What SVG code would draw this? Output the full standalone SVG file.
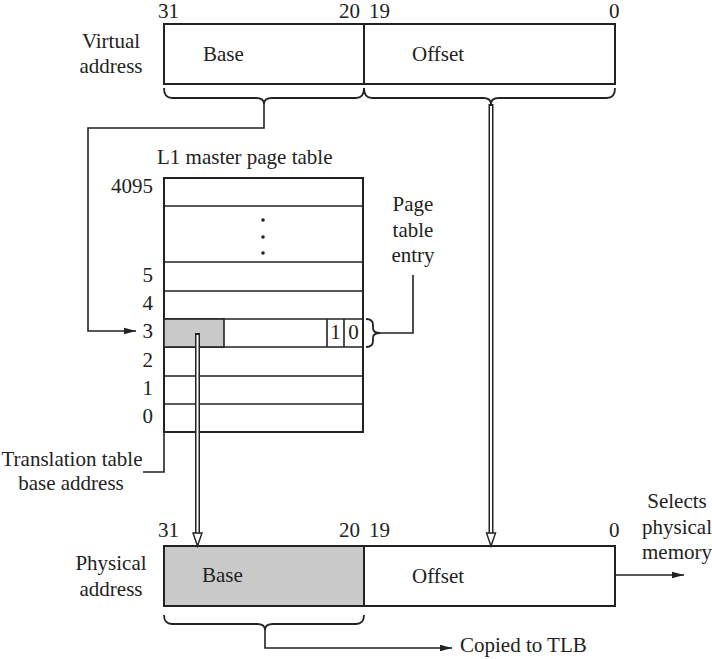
<svg xmlns="http://www.w3.org/2000/svg" width="712" height="659" viewBox="0 0 712 659">
<style>
text{font-family:"Liberation Serif","Times New Roman",serif;font-size:21px;fill:#222}
.box{fill:#fff;stroke:#222;stroke-width:2}
.shade{fill:#c9c9c9;stroke:#222;stroke-width:2}
.ln{fill:none;stroke:#222;stroke-width:1.6}
.br{fill:none;stroke:#222;stroke-width:1.8}
.dblo{fill:none;stroke:#222;stroke-width:5}
.dbli{fill:none;stroke:#fff;stroke-width:2}
.hol{fill:#fff;stroke:#222;stroke-width:1.4}
.m{text-anchor:middle}
.e{text-anchor:end}
</style>
<defs>
<marker id="ah" viewBox="0 0 12 8" refX="12" refY="4" markerWidth="12" markerHeight="8" markerUnits="userSpaceOnUse" orient="auto">
<path d="M0,0.8 L12,4 L0,7.2 Z" fill="#222"/>
</marker>
</defs>
<rect width="712" height="659" fill="#fff"/>

<g id="virtual-address">
<rect class="box" x="164" y="24" width="451" height="60"/>
<line class="ln" x1="364" y1="24" x2="364" y2="84" style="stroke-width:2"/>
<text x="158" y="18">31</text>
<text class="e" x="360" y="18">20</text>
<text x="369" y="18">19</text>
<text x="609" y="18">0</text>
<text class="m" x="111" y="48">Virtual</text>
<text class="m" x="111" y="73">address</text>
<text x="203" y="61">Base</text>
<text x="412" y="61">Offset</text>
<path class="br" d="M164,88 Q164,98 172,98 L256,98 Q264,98 264,104 Q264,98 272,98 L356,98 Q364,98 364,88"/>
<path class="br" d="M364,88 Q364,98 372,98 L483,98 Q491,98 491,104 Q491,98 499,98 L607,98 Q615,98 615,88"/>
</g>

<g id="page-table">
<text x="157" y="164">L1 master page table</text>
<rect class="box" x="164" y="178" width="199" height="254"/>
<line class="ln" x1="164" y1="206" x2="363" y2="206"/>
<line class="ln" x1="164" y1="262" x2="363" y2="262"/>
<line class="ln" x1="164" y1="291" x2="363" y2="291"/>
<line class="ln" x1="164" y1="319" x2="363" y2="319"/>
<line class="ln" x1="164" y1="347" x2="363" y2="347"/>
<line class="ln" x1="164" y1="376" x2="363" y2="376"/>
<line class="ln" x1="164" y1="404" x2="363" y2="404"/>
<rect class="shade" x="164" y="319" width="60" height="28" style="stroke-width:1.6"/>
<line class="ln" x1="327" y1="319" x2="327" y2="347"/>
<line class="ln" x1="344" y1="319" x2="344" y2="347"/>
<text class="m" x="335.5" y="339">1</text>
<text class="m" x="353.5" y="339">0</text>
<circle cx="263" cy="220" r="1.8" fill="#222"/>
<circle cx="263" cy="237" r="1.8" fill="#222"/>
<circle cx="263" cy="253" r="1.8" fill="#222"/>
<text class="e" x="153" y="193">4095</text>
<text class="e" x="153" y="282">5</text>
<text class="e" x="153" y="310">4</text>
<text class="e" x="153" y="338">3</text>
<text class="e" x="153" y="367">2</text>
<text class="e" x="153" y="395">1</text>
<text class="e" x="153" y="423">0</text>
<path class="br" d="M366,319 Q373,319 373,325 L373,328 Q373,333 380,333 Q373,333 373,338 L373,341 Q373,347 366,347"/>
</g>

<g id="page-table-entry-label">
<text class="m" x="413" y="211">Page</text>
<text class="m" x="413" y="237">table</text>
<text class="m" x="413" y="262">entry</text>
</g>

<g id="ttb-label">
<text class="m" x="72" y="466">Translation table</text>
<text class="m" x="71" y="490">base address</text>
</g>

<g id="physical-address">
<rect class="box" x="164" y="546" width="451" height="60"/>
<rect class="shade" x="164" y="546" width="200" height="60"/>
<text x="158" y="537">31</text>
<text class="e" x="360" y="537">20</text>
<text x="369" y="537">19</text>
<text x="609" y="537">0</text>
<text class="m" x="111" y="570">Physical</text>
<text class="m" x="111" y="596">address</text>
<text x="202" y="582">Base</text>
<text x="412" y="583">Offset</text>
<path class="br" d="M164,615 Q164,624 172,624 L257,624 Q265,624 265,630 Q265,624 273,624 L356,624 Q364,624 364,615"/>
</g>

<g id="outputs">
<text class="m" x="677" y="508">Selects</text>
<text class="m" x="677" y="534">physical</text>
<text class="m" x="677" y="559">memory</text>
<text x="460" y="652">Copied to TLB</text>
</g>

<g id="connectors">
<polyline class="ln" points="264,104 264,128 88,128 88,331 136,331" marker-end="url(#ah)"/>
<polyline class="ln" points="380,333 413,333 413,275"/>
<polyline class="ln" points="164,432 164,472 143,472"/>
<polyline class="ln" points="265,630 265,648 452,648" marker-end="url(#ah)"/>
<line class="ln" x1="615" y1="575" x2="684" y2="575" marker-end="url(#ah)"/>
<line class="dblo" x1="197.5" y1="333" x2="197.5" y2="534"/>
<line class="dbli" x1="197.5" y1="335" x2="197.5" y2="535"/>
<polygon class="hol" points="193,533 202,533 197.5,546"/>
<line class="dblo" x1="491" y1="104" x2="491" y2="534"/>
<line class="dbli" x1="491" y1="106" x2="491" y2="535"/>
<polygon class="hol" points="486.5,533 495.5,533 491,546"/>
</g>
</svg>
